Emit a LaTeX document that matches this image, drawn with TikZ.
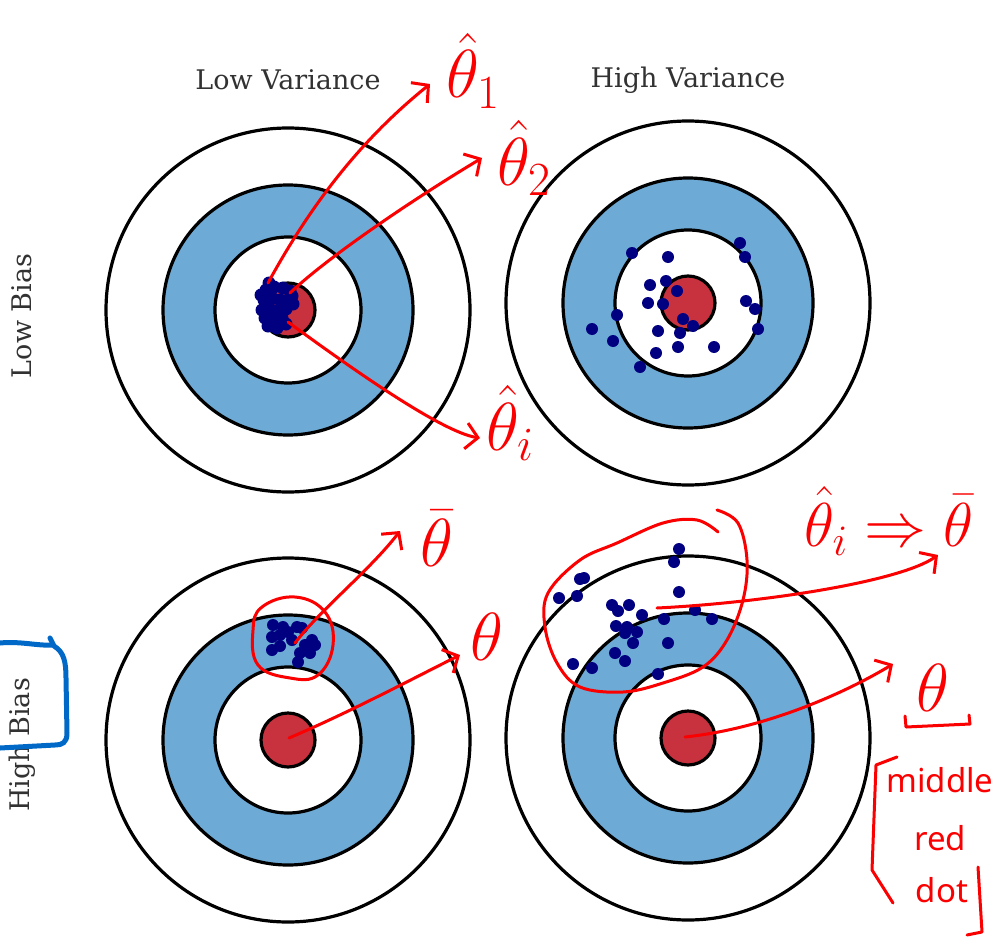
\RequirePackage{fix-cm}
\documentclass[tikz,border=0pt]{standalone}
\usepackage{fontspec}
\newfontfamily\labelfont{DejaVu Serif}
\newfontfamily\handfont{Noto Sans}
\usetikzlibrary{arrows.meta}
\definecolor{ringblue}{RGB}{110,170,214}
\definecolor{bullred}{RGB}{200,50,62}
\definecolor{dotnavy}{RGB}{0,0,128}
\definecolor{penblue}{RGB}{0,105,200}
\definecolor{pen}{RGB}{250,0,0}
\definecolor{labelgray}{RGB}{50,50,50}
\tikzset{
  ring/.style={draw=black, line width=3.2pt},
  target/.pic={
    \draw[ring, fill=white] (0,0) circle[radius=182pt];
    \draw[ring, fill=ringblue] (0,0) circle[radius=125pt];
    \draw[ring, fill=white] (0,0) circle[radius=73pt];
    \draw[ring, fill=bullred] (0,0) circle[radius=27pt];
  },
  headtext/.style={font=\labelfont\fontsize{27}{27}\selectfont, text=labelgray},
  ann/.style={draw=pen, line width=3pt, line cap=round, line join=round},
  annarrow/.style={ann, -{Straight Barb[length=12pt,width=26pt]}},
  hand/.style={text=pen, font=\fontsize{68}{68}\selectfont, inner sep=0pt, anchor=base west},
  handsmall/.style={text=pen, font=\handfont\fontsize{33}{33}\selectfont, inner sep=0pt},
  bluepen/.style={draw=penblue, line width=5pt, line cap=round, line join=round},
  dot/.style={fill=dotnavy}
}
\begin{document}
\begin{tikzpicture}[x=1pt,y=-1pt]
\useasboundingbox (0,0) rectangle (1000,939);
\fill[white] (0,0) rectangle (1000,939);

% targets
\pic at (288,310) {target};
\pic at (688,303) {target};
\pic at (288,740) {target};
\pic at (688,738) {target};

% headings
\node[headtext] (lv) at (288,80) {Low Variance};
\node[headtext] (hv) at (688,80) {High Variance};
\node[headtext, rotate=90] (lb) at (22,316) {Low Bias};
\node[headtext, rotate=90] (hb) at (22,745) {High Bias};

% dots: low bias, low variance
\foreach \p in {(266,290),(274,287),(283,288),(290,291),(264,300),(272,298),(280,300),(288,300),
  (262,310),(270,309),(278,311),(286,309),(293,304),(265,318),(273,320),(282,318),(268,326),
  (277,328),(286,324),(261,295),(269,283),(292,296)}
  \fill[dot] \p circle[radius=6.5pt];

% dots: low bias, high variance
\foreach \p in {(632,253),(668,257),(740,243),(745,257),(650,285),(666,281),(677,291),(648,303),
  (663,304),(746,301),(755,309),(617,315),(683,319),(693,326),(592,329),(658,331),(680,333),
  (758,329),(613,341),(678,347),(714,347),(656,353),(640,367)}
  \fill[dot] \p circle[radius=6pt];

% dots: high bias, low variance
\foreach \p in {(273,625),(283,627),(297,627),(302,628),(272,637),(280,635),(292,640),(312,640),
  (315,645),(272,650),(300,653),(310,653),(298,662),(288,632),(305,645),(280,646)}
  \fill[dot] \p circle[radius=6pt];

% dots: high bias, high variance
\foreach \p in {(679,549),(674,562),(580,579),(584,578),(559,598),(577,596),(679,592),(612,605),
  (629,605),(618,611),(642,615),(695,610),(712,619),(664,619),(616,626),(627,627),(625,633),
  (637,632),(633,643),(668,643),(615,653),(625,661),(573,664),(592,668),(658,674)}
  \fill[dot] \p circle[radius=6pt];

% ---------- red annotations ----------
\coordinate (a1s) at (268,283);
\coordinate (a1e) at (430,84);
\coordinate (a2s) at (290,293);
\coordinate (a2e) at (482,158);
\coordinate (a3s) at (288,322);
\coordinate (a3e) at (480,438);
\draw[annarrow] (a1s) .. controls (316,195) and (368,134) .. (a1e);
\draw[annarrow] (a2s) .. controls (330,255) and (420,195) .. (a2e);
\draw[annarrow] (a3s) .. controls (340,360) and (440,432) .. (a3e);

\node[hand] (th1) at (446,98) {$\hat{\theta}_1$};
\node[hand] (th2) at (497,185) {$\hat{\theta}_2$};
\node[hand] (thi) at (486,450) {$\hat{\theta}_i$};

% bottom-left
\coordinate (b1s) at (295,643);
\coordinate (b1e) at (400,531);
\coordinate (b2s) at (289,738);
\coordinate (b2e) at (460,655);
\draw[ann] plot[smooth cycle, tension=0.7] coordinates {(262,607) (295,597) (325,612) (333,645) (318,675) (290,678) (258,665) (253,630)};
\draw[annarrow] (b1s) .. controls (320,610) and (370,570) .. (b1e);
\draw[annarrow] (b2s) .. controls (350,712) and (410,680) .. (b2e);
\node[hand] (thbar) at (420,566) {$\bar{\theta}$};
\node[hand] (thtrue) at (470,660) {$\theta$};

% bottom-right
\draw[ann] plot[smooth, tension=0.6] coordinates {(717,510) (738,523) (747,560) (743,600) (727,640) (703,667) (663,683) (623,692) (580,687) (557,663) (545,627) (548,593) (580,560) (617,543) (663,523) (697,520) (718,532)};
\coordinate (c1s) at (657,608);
\coordinate (c1e) at (938,555);
\coordinate (c2s) at (685,737);
\coordinate (c2e) at (893,664);
\draw[annarrow] (c1s) .. controls (760,603) and (900,582) .. (c1e);
\draw[annarrow] (c2s) .. controls (770,728) and (850,690) .. (c2e);
\node[hand, font=\fontsize{62}{62}\selectfont] (conv) at (804,546) {$\hat{\theta}_i \Rightarrow \bar{\theta}$};
\node[hand] (thmid) at (916,711) {$\theta$};
\draw[ann] (905,716) -- (906,727) -- (970,724) -- (969,715);
\node[handsmall] (w1) at (940,780) {middle};
\node[handsmall] (w2) at (940,838) {red};
\node[handsmall] (w3) at (942,890) {dot};
\draw[ann] (897,757) -- (876,765) -- (872,870) -- (893,903);
\draw[ann] (978,867) -- (982,932) -- (967,935);

% blue annotation around "High Bias"
\draw[bluepen] (0,643) .. controls (20,641) and (38,646) .. (52,645);
\draw[bluepen] (50,638) -- (54,646) .. controls (64,652) and (66,662) .. (66,678) -- (67,733) .. controls (67,743) and (62,745) .. (55,745) -- (0,748);
\end{tikzpicture}
\end{document}
